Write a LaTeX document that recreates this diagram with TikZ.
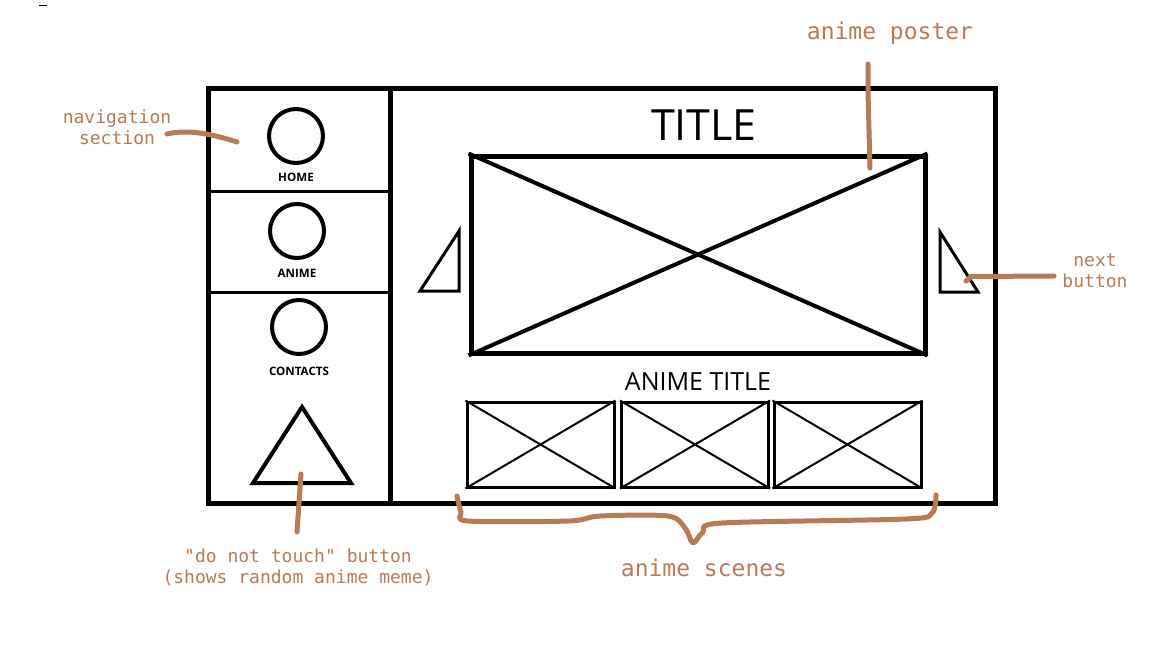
\documentclass[tikz,border=0pt]{standalone}
\usepackage{fontspec}
\setmainfont{Open Sans}
\newfontfamily\notefont{DejaVu Sans Mono}
\usepackage{tikz}
\usetikzlibrary{positioning}
\definecolor{noteBrown}{RGB}{185,122,86}

\begin{document}
\begin{tikzpicture}[x=0.5pt, y=-0.5pt,
    frameline/.style={line width=2.5pt},
    placeholder/.style={draw, inner sep=0pt},
    navbutton/.style={circle, draw, line width=2pt, minimum size=27pt, inner sep=0pt},
    navlabel/.style={font=\bfseries\fontsize{5.8}{7}\selectfont, inner sep=0pt},
    note/.style={noteBrown, line width=2.5pt, line cap=round, line join=round},
    notetext/.style={text=noteBrown, font=\notefont\fontsize{9}{10.5}\selectfont, align=center, inner sep=0pt},
    bignote/.style={text=noteBrown, font=\notefont\fontsize{11.5}{13}\selectfont, inner sep=0pt}]
  \useasboundingbox (0,0) rectangle (1152,648);
  \draw[line width=0.5pt] (39,5) -- (47,5);

  % page frame and navigation column
  \draw[frameline] (208,88) rectangle (995,503);
  \draw[frameline] (390,88) -- (390,503);
  \draw[line width=1.5pt] (208,191) -- (390,191);
  \draw[line width=1.5pt] (208,292) -- (390,292);

  % navigation buttons
  \foreach \name/\txt/\x/\y/\dy in {home/HOME/296/136/41, anime/ANIME/297/231/42, contacts/CONTACTS/299/327/44} {
    \node[navbutton] (\name) at (\x,\y) {};
    \node[navlabel] (\name-lbl) at (\x,\y+\dy) {\txt};
  }

  % "do not touch" button
  \draw[line width=2pt, line join=miter] (253,483) -- (302,407) -- (351,483) -- cycle;

  % title and poster
  \node[font=\fontsize{21.5}{24}\selectfont, inner sep=0pt] (title) at (704,125) {TITLE};
  \node[placeholder, line width=2.5pt, minimum width=227pt, minimum height=98.5pt] (poster) at (698,254.5) {};
  \draw[line width=2pt] (poster.north west) -- (poster.south east);
  \draw[line width=2pt] (poster.south west) -- (poster.north east);

  % prev / next arrows
  \draw[line width=1.5pt] (420,291) -- (459,231) -- (459,291) -- cycle;
  \draw[line width=1.5pt] (940,232) -- (940,292) -- (978,292) -- cycle;

  % anime title and scenes
  \node[font=\fontsize{12.5}{14}\selectfont, inner sep=0pt] (animetitle) at (698,382) {ANIME TITLE};
  \foreach \i/\x in {1/540.5, 2/695, 3/847.5} {
    \node[placeholder, line width=1.5pt, minimum width=73.5pt, minimum height=42.5pt] (scene\i) at (\x,444.5) {};
    \draw[line width=1pt] (scene\i.north west) -- (scene\i.south east);
    \draw[line width=1pt] (scene\i.south west) -- (scene\i.north east);
  }

  % annotations
  \node[notetext] (navnote) at (117,127.5) {navigation\\section};
  \coordinate (navstart) at (167,134);
  \coordinate (navend) at (237,142);
  \draw[note] (navstart) .. controls (188,129) and (212,134) .. (navend);

  \node[bignote] (posternote) at (890,33) {anime poster};
  \coordinate (posterstart) at (868,64);
  \coordinate (posterend) at (870,168);
  \draw[note] (posterstart) -- (868,92) -- (posterend);

  \node[notetext] (nextnote) at (1095,270.5) {next\\button};
  \coordinate (nextstart) at (1054,276);
  \coordinate (nextend) at (966,281);
  \draw[note] (nextstart) -- (971,276.5) -- (nextend);

  \node[notetext] (touchnote) at (298,567) {"do not touch" button\\(shows random anime meme)};
  \coordinate (touchstart) at (301,474);
  \coordinate (touchend) at (297,532);
  \draw[note] (touchstart) -- (touchend);

  \node[bignote] (scenesnote) at (704,568) {anime scenes};
  \coordinate (bracestart) at (457,496);
  \coordinate (braceend) at (936,495);
  \draw[note] plot[smooth, tension=0.5] coordinates {
    (bracestart) (461,512) (468,521) (569,521) (600,516) (668,516) (685,528) (693,543)
    (703,532) (722,523) (906,519) (932,513) (braceend)
  };
\end{tikzpicture}
\end{document}
